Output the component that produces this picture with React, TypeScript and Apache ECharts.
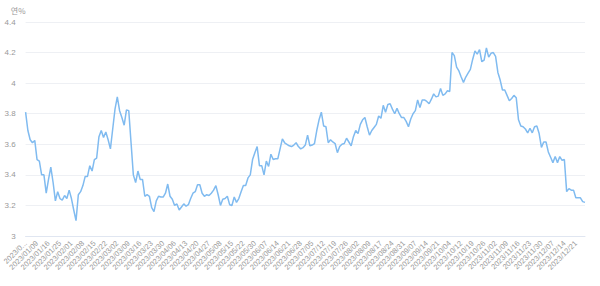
import React, { useEffect, useRef } from "react";
import * as echarts from "echarts";

// Korean market holidays (weekdays) in 2023
const holidays: string[] = [
  "2023/01/23", "2023/01/24", "2023/03/01", "2023/05/01", "2023/05/05",
  "2023/05/29", "2023/06/06", "2023/08/15", "2023/09/28", "2023/09/29",
  "2023/10/02", "2023/10/03", "2023/10/09", "2023/12/25", "2023/12/29",
];

function buildDates(): string[] {
  const out: string[] = [];
  const d = new Date(2023, 0, 1);
  while (d.getFullYear() === 2023) {
    const wd = d.getDay();
    const s = `${d.getFullYear()}/${String(d.getMonth() + 1).padStart(2, "0")}/${String(d.getDate()).padStart(2, "0")}`;
    if (wd !== 0 && wd !== 6 && holidays.indexOf(s) < 0) out.push(s);
    d.setDate(d.getDate() + 1);
  }
  return out;
}

const dates: string[] = buildDates();

const yields: number[] = [
  3.81, 3.69, 3.63, 3.61, 3.625, 3.5, 3.49, 3.4, 3.4, 3.28,
  3.37, 3.45, 3.35, 3.23, 3.29, 3.245, 3.235, 3.265, 3.245, 3.3,
  3.245, 3.17, 3.1, 3.27, 3.29, 3.33, 3.39, 3.39, 3.46, 3.425,
  3.5, 3.51, 3.65, 3.69, 3.645, 3.68, 3.63, 3.57, 3.7, 3.83,
  3.91, 3.82, 3.775, 3.725, 3.825, 3.82, 3.61, 3.4, 3.35, 3.425,
  3.37, 3.37, 3.26, 3.27, 3.26, 3.185, 3.16, 3.23, 3.26, 3.255,
  3.255, 3.28, 3.34, 3.26, 3.24, 3.2, 3.21, 3.17, 3.19, 3.21,
  3.195, 3.205, 3.245, 3.28, 3.29, 3.335, 3.335, 3.28, 3.26, 3.27,
  3.265, 3.28, 3.3, 3.33, 3.27, 3.2, 3.24, 3.245, 3.26, 3.205,
  3.2, 3.255, 3.22, 3.245, 3.29, 3.33, 3.33, 3.38, 3.4, 3.5,
  3.545, 3.585, 3.46, 3.46, 3.4, 3.49, 3.455, 3.535, 3.5, 3.505,
  3.505, 3.57, 3.635, 3.61, 3.6, 3.59, 3.585, 3.595, 3.61, 3.585,
  3.57, 3.578, 3.595, 3.66, 3.59, 3.595, 3.605, 3.69, 3.76, 3.81,
  3.72, 3.715, 3.61, 3.63, 3.615, 3.605, 3.545, 3.585, 3.6, 3.605,
  3.64, 3.615, 3.59, 3.65, 3.69, 3.67, 3.73, 3.76, 3.775, 3.715,
  3.66, 3.69, 3.71, 3.73, 3.785, 3.77, 3.855, 3.81, 3.86, 3.865,
  3.83, 3.8, 3.835, 3.8, 3.775, 3.775, 3.75, 3.715, 3.765, 3.8,
  3.82, 3.89, 3.84, 3.89, 3.89, 3.88, 3.865, 3.895, 3.93, 3.91,
  3.915, 3.965, 3.92, 3.93, 3.95, 3.945, 4.2, 4.18, 4.105, 4.08,
  4.04, 4.005, 4.04, 4.065, 4.09, 4.155, 4.21, 4.19, 4.22, 4.14,
  4.15, 4.23, 4.17, 4.195, 4.2, 4.175, 4.07, 4.02, 3.955, 3.955,
  3.92, 3.885, 3.9, 3.92, 3.905, 3.76, 3.72, 3.715, 3.7, 3.675,
  3.705, 3.675, 3.715, 3.72, 3.67, 3.58, 3.615, 3.615, 3.55, 3.515,
  3.48, 3.52, 3.48, 3.52, 3.495, 3.5, 3.29, 3.31, 3.3, 3.3,
  3.25, 3.25, 3.25, 3.225, 3.22,
];

const yTicks = { min: 3, max: 4.4, interval: 0.2 };
const axisName = "연%";

export default function App() {
  const ref = useRef<HTMLDivElement>(null);
  useEffect(() => {
    if (!ref.current) return;
    const chart = echarts.init(ref.current, undefined, { renderer: "svg" });
    chart.setOption({
      animation: false,
      grid: { left: 24, right: 15, top: 22, bottom: 50, containLabel: false },
      xAxis: {
        type: "category",
        data: dates,
        boundaryGap: false,
        axisLine: { lineStyle: { color: "#e0e6f1" } },
        axisTick: { show: false },
        axisLabel: {
          interval: 4,
          rotate: 45,
          fontSize: 7.5,
          color: "#999",
          margin: 6,
          fontFamily: "sans-serif",
          formatter: (v: string, i: number) => (i === 0 ? v.slice(0, 6) + "..." : v),
        },
      },
      yAxis: {
        type: "value",
        min: yTicks.min,
        max: yTicks.max,
        interval: yTicks.interval,
        name: axisName,
        nameGap: 8,
        nameTextStyle: { color: "#999", fontSize: 8, align: "right", fontFamily: "Noto Sans CJK KR" },
        axisLine: { show: false },
        axisTick: { show: false },
        axisLabel: { fontSize: 8, color: "#999", margin: 10, fontFamily: "sans-serif" },
        splitLine: { lineStyle: { color: "#eef0f4" } },
      },
      series: [
        {
          type: "line",
          data: yields,
          showSymbol: false,
          lineStyle: { color: "#80bbf0", width: 1.5 },
          itemStyle: { color: "#80bbf0" },
        },
      ],
    });
    return () => chart.dispose();
  }, []);
  return (
    <div
      ref={ref}
      style={{ width: 600, height: 286, position: "absolute", left: 0, top: 0 }}
    />
  );
}
